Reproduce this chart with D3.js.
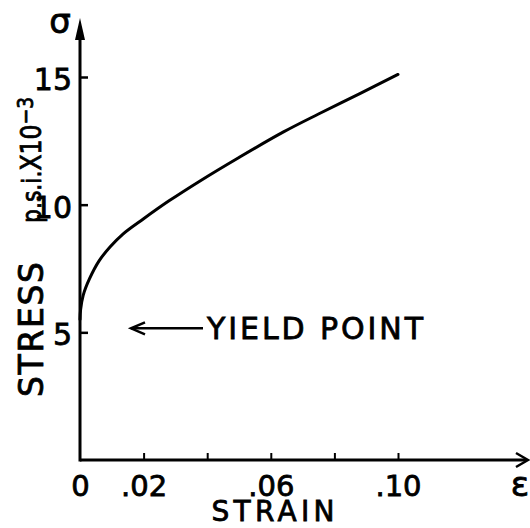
<!DOCTYPE html>
<html><head><meta charset="utf-8">
<script src="https://cdn.jsdelivr.net/npm/d3@7/dist/d3.min.js"></script>
<style>
html,body{margin:0;padding:0;background:#fff;}
text{font-family:"DejaVu Sans",sans-serif;fill:#000;stroke:#000;stroke-width:0.8px;}
</style></head>
<body><svg id="c" width="530" height="528"></svg>
<script>
// Data
const strain = [0, 0.0002, 0.001, 0.003, 0.006, 0.0095, 0.0135, 0.02, 0.028, 0.038, 0.05, 0.064, 0.075, 0.088, 0.10];
const stress = [5.5, 5.9, 6.45, 7.1, 7.8, 8.35, 8.85, 9.45, 10.15, 10.95, 11.85, 12.85, 13.55, 14.35, 15.1];
const xTicks = [0, 0.02, 0.04, 0.06, 0.08, 0.10];
const xTickLabels = ["0", ".02", "", ".06", "", ".10"];
const yTicks = [5, 10, 15];
const yTickLabels = ["5", "10", "15"];
const yieldStress = 5;

const FONT = "'DejaVu Sans',sans-serif";
const svg = d3.select("#c");
const x = d3.scaleLinear().domain([0, 0.10]).range([80, 398]);
const y = d3.scaleLinear().domain([0, 15]).range([460, 77]);

// Axis lines with arrows
svg.append("line").attr("x1", x(0)).attr("y1", y(0)).attr("x2", 527).attr("y2", y(0))
  .attr("stroke", "#000").attr("stroke-width", 3);
svg.append("path").attr("d", `M516,${y(0)-7} L528,${y(0)} L516,${y(0)+7}`)
  .attr("fill", "none").attr("stroke", "#000").attr("stroke-width", 2.5);
svg.append("line").attr("x1", x(0)).attr("y1", y(0)+1.5).attr("x2", x(0)).attr("y2", 28)
  .attr("stroke", "#000").attr("stroke-width", 3);
svg.append("path").attr("d", `M${x(0)-5},40 L${x(0)},18 L${x(0)+5},40 Z`).attr("fill", "#000");

// X axis ticks
const xa = d3.axisBottom(x).tickValues(xTicks).tickSizeInner(-7).tickSizeOuter(0).tickPadding(15)
  .tickFormat((d, i) => xTickLabels[i]);
const gx = svg.append("g").attr("transform", `translate(0,${y(0)})`).call(xa);
gx.select(".domain").remove();
gx.selectAll(".tick line").attr("stroke", "#000").attr("stroke-width", 2);
gx.selectAll(".tick").filter(d => d === 0).select("line").remove();
gx.selectAll(".tick text").attr("font-size", 29).attr("font-family", FONT).attr("fill", "#000")
  .attr("stroke", "#000").attr("stroke-width", 0.8);

// Y axis ticks
const ya = d3.axisLeft(y).tickValues(yTicks).tickSizeInner(-8).tickSizeOuter(0).tickPadding(8)
  .tickFormat((d, i) => yTickLabels[i]);
const gy = svg.append("g").attr("transform", `translate(${x(0)},0)`).call(ya);
gy.select(".domain").remove();
gy.selectAll(".tick line").attr("stroke", "#000").attr("stroke-width", 2.5);
gy.selectAll(".tick text").attr("font-size", 30).attr("font-family", FONT).attr("fill", "#000")
  .attr("stroke", "#000").attr("stroke-width", 0.8).attr("dy", "0.42em");

// Curve
const pts = strain.map((s, i) => [s, stress[i]]);
svg.append("path").datum(pts)
  .attr("d", d3.line().x(d => x(d[0])).y(d => y(d[1])).curve(d3.curveCatmullRom.alpha(0.5)))
  .attr("fill", "none").attr("stroke", "#000").attr("stroke-width", 3).attr("stroke-linecap", "round");

// Yield point annotation
const yy = y(yieldStress) - 4;
svg.append("line").attr("x1", 131).attr("y1", yy).attr("x2", 203).attr("y2", yy)
  .attr("stroke", "#000").attr("stroke-width", 2.5);
svg.append("path").attr("d", `M145,${yy-6} L131,${yy} L145,${yy+6}`)
  .attr("fill", "none").attr("stroke", "#000").attr("stroke-width", 2.5);
svg.append("text").attr("x", 207).attr("y", yy + 11).attr("font-size", 30)
  .attr("textLength", 216).attr("lengthAdjust", "spacing").text("YIELD POINT");

// Axis titles
svg.append("text").attr("x", 273).attr("y", 521).attr("text-anchor", "middle").attr("font-size", 28)
  .attr("textLength", 123).attr("lengthAdjust", "spacing").text("STRAIN");
svg.append("text").attr("transform", "translate(43,397) rotate(-90)").attr("font-size", 33)
  .attr("textLength", 135).attr("lengthAdjust", "spacing").text("STRESS");
const t2 = svg.append("text").attr("transform", "translate(41,223) rotate(-90)").attr("font-size", 28)
  .attr("textLength", 126).attr("lengthAdjust", "spacingAndGlyphs");
t2.append("tspan").attr("font-size", 26).text("p.s.i.");
t2.append("tspan").text("X10");
t2.append("tspan").attr("dy", -8).attr("font-size", 22).text("−3");

// Greek symbols
svg.append("text").attr("x", 60).attr("y", 33).attr("text-anchor", "middle").attr("font-size", 34).text("σ");
svg.append("text").attr("x", 520).attr("y", 496).attr("text-anchor", "middle").attr("font-size", 34).text("ε");
</script></body></html>
